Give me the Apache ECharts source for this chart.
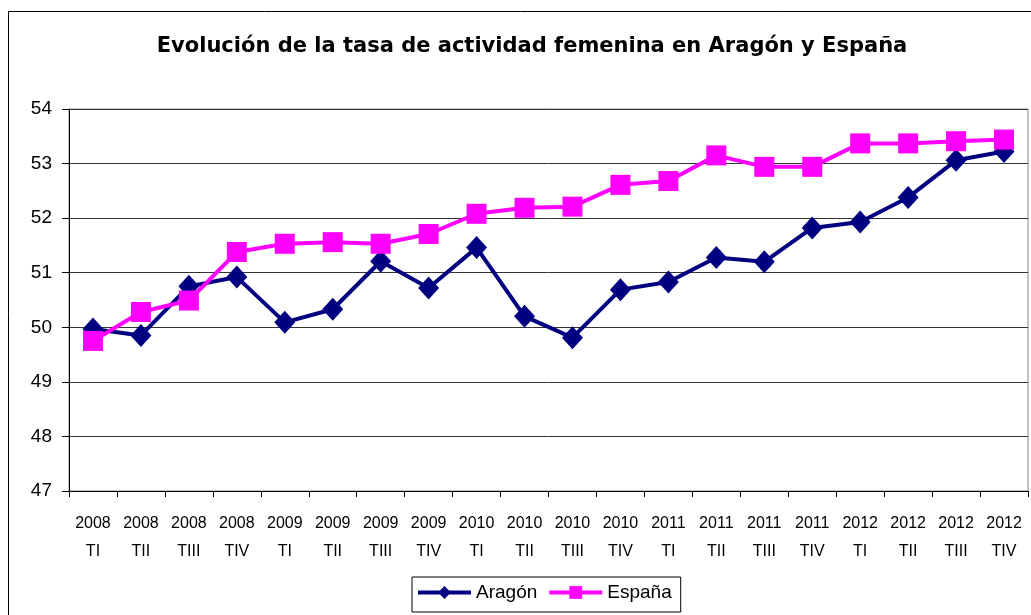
<!DOCTYPE html>
<html>
<head>
<meta charset="utf-8">
<script src="https://cdn.jsdelivr.net/npm/echarts@6/dist/echarts.min.js"></script>
<style>
  html, body { margin: 0; padding: 0; background: #fff; }
  #chart { width: 1031px; height: 615px; }
</style>
</head>
<body>
<div id="chart"></div>
<script>
const quarters = [
  "2008\nTI", "2008\nTII", "2008\nTIII", "2008\nTIV",
  "2009\nTI", "2009\nTII", "2009\nTIII", "2009\nTIV",
  "2010\nTI", "2010\nTII", "2010\nTIII", "2010\nTIV",
  "2011\nTI", "2011\nTII", "2011\nTIII", "2011\nTIV",
  "2012\nTI", "2012\nTII", "2012\nTIII", "2012\nTIV"
];
const aragon = [49.97, 49.85, 50.75, 50.92, 50.09, 50.33, 51.21, 50.72, 51.46, 50.20,
                49.81, 50.69, 50.83, 51.28, 51.20, 51.82, 51.93, 52.38, 53.06, 53.22];
const espana = [49.75, 50.28, 50.49, 51.38, 51.53, 51.56, 51.53, 51.71, 52.08, 52.19,
                52.21, 52.61, 52.68, 53.15, 52.94, 52.94, 53.37, 53.37, 53.41, 53.44];

const chart = echarts.init(document.getElementById("chart"));

chart.setOption({
  animation: false,
  textStyle: { fontFamily: "Liberation Sans, Arial, sans-serif", color: "#000" },
  title: {
    text: "Evolución de la tasa de actividad femenina en Aragón y España",
    left: 527,
    textAlign: "center",
    top: 31,
    textStyle: { fontSize: 21, fontWeight: "bold", color: "#000", fontFamily: "DejaVu Sans" }
  },
  graphic: [{
    type: "rect",
    shape: { x: 8.5, y: 11.5, width: 1100, height: 700 },
    style: { fill: "none", stroke: "#000", lineWidth: 1 },
    silent: true,
    z: -1
  }],
  legend: {
    data: ["Aragón", "España"],
    left: 412,
    top: 577,
    itemWidth: 53,
    itemHeight: 16,
    itemGap: 10,
    padding: [6, 9, 10, 4],
    borderColor: "#000",
    borderWidth: 1,
    lineStyle: { width: 4 },
    textStyle: { fontSize: 19, color: "#000" }
  },
  grid: {
    left: 69,
    top: 109,
    right: 3,
    bottom: 124,
    show: true,
    borderColor: "#888",
    borderWidth: 1
  },
  xAxis: {
    type: "category",
    data: quarters,
    boundaryGap: true,
    axisLine: { lineStyle: { color: "#000", width: 1 } },
    axisTick: { show: true, alignWithLabel: false, length: 6, lineStyle: { color: "#000" } },
    axisLabel: { fontSize: 16, lineHeight: 28, margin: 19, color: "#000", interval: 0 }
  },
  yAxis: {
    type: "value",
    min: 47,
    max: 54,
    interval: 1,
    axisLine: { show: true, lineStyle: { color: "#000", width: 1 } },
    axisTick: { show: true, length: 7, lineStyle: { color: "#000" } },
    axisLabel: { fontSize: 19, margin: 17, color: "#000" },
    splitLine: { lineStyle: { color: "#333", width: 1 } }
  },
  series: [
    {
      name: "Aragón",
      type: "line",
      data: aragon,
      symbol: "diamond",
      symbolSize: [21, 23],
      lineStyle: { color: "#000080", width: 4 },
      itemStyle: { color: "#000080" },
      z: 2
    },
    {
      name: "España",
      type: "line",
      data: espana,
      symbol: "rect",
      symbolSize: 20,
      lineStyle: { color: "#ff00ff", width: 4 },
      itemStyle: { color: "#ff00ff" },
      z: 3
    }
  ]
});
</script>
</body>
</html>
